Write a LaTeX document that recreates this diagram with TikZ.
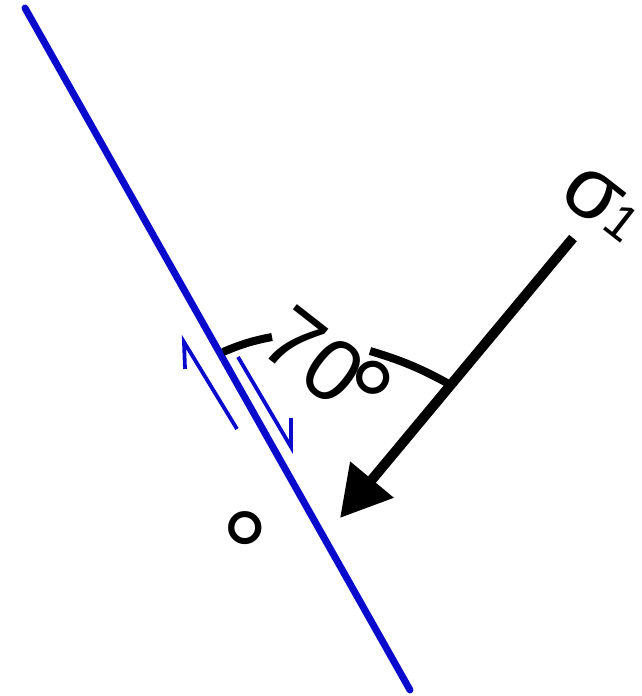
\documentclass[tikz,border=0pt]{standalone}
\usepackage{fontspec}
\setmainfont{Liberation Sans}
\usetikzlibrary{arrows.meta}
\definecolor{faultblue}{RGB}{10,10,205}
\newcommand{\bigdeg}{\scalebox{1.35}{°}}
\tikzset{
  fault/.style={draw=faultblue, line width=7pt, line cap=round},
  shear/.style={draw=faultblue, line width=3.8pt, line join=miter},
  stress/.style={draw=black, line width=10pt, -{Triangle[length=50pt,width=54pt]}},
  anglearc/.style={draw=black, line width=8pt},
  bigtext/.style={font=\fontsize{88}{96}\selectfont, inner sep=0pt, rotate=-38},
  subtext/.style={font=\fontsize{50}{56}\selectfont, inner sep=0pt, rotate=-38}
}
\begin{document}
\begin{tikzpicture}[x=1pt,y=-1pt]
\useasboundingbox (0,0) rectangle (641,696);
% fault plane
\coordinate (f1) at (25,8);
\coordinate (f2) at (410,690);
\draw[fault] (f1) -- (f2);
% shear sense half arrows
\coordinate (la) at (237,429);
\coordinate (lb) at (184,342);
\coordinate (lc) at (185,369);
\draw[shear] (la) -- (lb) -- (lc);
\coordinate (ra) at (238,357);
\coordinate (rb) at (291,447);
\coordinate (rc) at (291,418);
\draw[shear] (ra) -- (rb) -- (rc);
% sigma 1 arrow
\coordinate (s1) at (573,238);
\coordinate (s2) at (340,518);
\draw[stress] (s1) -- (s2);
% angle arc
\coordinate (a1) at (223,352);
\coordinate (a2) at (272,337);
\coordinate (a3) at (370,351);
\coordinate (a4) at (449,384);
\draw[anglearc] (a1) to[bend left=6] (a2);
\draw[anglearc] (a3) to[bend left=6] (a4);
% labels
\node[bigtext] (ang) at (314,356) {70};
\node[bigtext] (angdeg) at (358,397) {\bigdeg};
\node[bigtext] (sig) at (592,196) {σ};
\node[subtext] (one) at (622,223) {1};
\node[font=\fontsize{88}{96}\selectfont, inner sep=0pt] (deg) at (245,553) {\bigdeg};
\end{tikzpicture}
\end{document}
